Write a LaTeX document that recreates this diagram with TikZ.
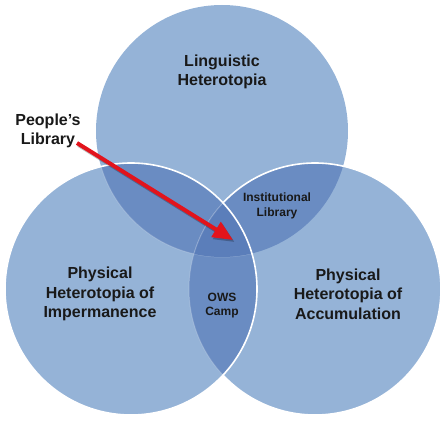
\documentclass[tikz,border=0pt]{standalone}
\usepackage{fontspec}
\setmainfont{Liberation Sans}
\usetikzlibrary{arrows.meta}
\definecolor{vsingle}{HTML}{95B3D7}
\definecolor{vdouble}{HTML}{6A8CC2}
\definecolor{vtriple}{HTML}{5B7EBA}
\definecolor{arrowred}{HTML}{E2141C}
\tikzset{
  big/.style={font=\fontsize{16}{19.5}\selectfont\bfseries, align=center, text=black!90},
  small/.style={font=\fontsize{12}{14.5}\selectfont\bfseries, align=center, text=black!90},
  rim/.style={draw=white, line width=1.6pt},
  faintrim/.style={draw=white, opacity=0.2, line width=1pt},
  pointer/.style={draw=arrowred, fill=arrowred, line width=4pt, -{Triangle[length=20pt,width=17pt]}},
  pointershadow/.style={draw=black, opacity=0.25, line width=4pt, -{Triangle[length=20pt,width=17pt]}}
}
\begin{document}
\begin{tikzpicture}[x=1pt,y=-1pt]
\useasboundingbox (0,0) rectangle (445,422);
\def\R{126}
\coordinate (T) at (222,131);
\coordinate (L) at (131,289);
\coordinate (Rc) at (315,289);
% top circle
\fill[vsingle] (T) circle (\R);
% right circle
\fill[vsingle] (Rc) circle (\R);
\begin{scope}
  \clip (T) circle (\R);
  \fill[vdouble] (Rc) circle (\R);
\end{scope}
\draw[rim] (Rc) circle (\R);
% left circle
\fill[vsingle] (L) circle (\R);
\begin{scope}
  \clip (L) circle (\R);
  \fill[vdouble] (T) circle (\R);
  \fill[vdouble] (Rc) circle (\R);
  \draw[faintrim] (T) circle (\R);
  \draw[faintrim] (Rc) circle (\R);
  \clip (T) circle (\R);
  \fill[vtriple] (Rc) circle (\R);
  \draw[faintrim] (Rc) circle (\R);
\end{scope}
\draw[rim] (L) circle (\R);
% labels
\node[big] (ling) at (222,72) {Linguistic\\Heterotopia};
\node[big] (imp) at (100,294) {Physical\\Heterotopia of\\Impermanence};
\node[big] (acc) at (348,294) {Physical\\Heterotopia of\\Accumulation};
\node[small] (inst) at (277,206) {Institutional\\Library};
\node[small] (ows) at (222,305.5) {OWS\\Camp};
\node[big] (people) at (48,131) {People’s\\Library};
% arrow
\coordinate (astart) at (77,143);
\coordinate (atip) at (233,240);
\draw[pointershadow] ([shift={(1.5,2)}]astart) -- ([shift={(1.5,2)}]atip);
\draw[pointer] (astart) -- (atip);
\end{tikzpicture}
\end{document}
